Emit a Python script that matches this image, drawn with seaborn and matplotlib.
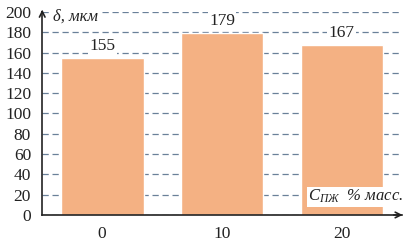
import pandas as pd
import seaborn as sns
import matplotlib.pyplot as plt

# Data
concentration = ["0", "10", "20"]
thickness = [155, 179, 167]
y_ticks = [0, 20, 40, 60, 80, 100, 120, 140, 160, 180, 200]

df = pd.DataFrame({"c": concentration, "delta": thickness})

sns.set_style("white")
plt.rcParams["font.family"] = ["Liberation Serif", "DejaVu Serif"]
plt.rcParams["mathtext.fontset"] = "custom"
plt.rcParams["mathtext.it"] = "Liberation Serif:italic"
plt.rcParams["mathtext.rm"] = "Liberation Serif"

fig = plt.figure(figsize=(4.1, 2.44), dpi=100)
ax = fig.add_axes([0.103, 0.119, 0.877, 0.832])

sns.barplot(data=df, x="c", y="delta", color="#F4B183", saturation=1,
            width=0.69, ax=ax, zorder=2)

ax.set_ylim(0, 200)
ax.set_xlim(-0.5, 2.5)
ax.set_yticks(y_ticks)
ax.set_xlabel("")
ax.set_ylabel("")
ax.grid(axis="y", linestyle=(0, (5, 3)), color="#6a8099", linewidth=0.9, zorder=1)
ax.set_axisbelow(True)
ax.tick_params(axis="both", length=0, labelsize=12.5, colors="#222222")
ax.tick_params(axis="y", pad=8)
ax.tick_params(axis="x", pad=8)

for s in ["top", "right"]:
    ax.spines[s].set_visible(False)
for s in ["left", "bottom"]:
    ax.spines[s].set_color("#222222")
    ax.spines[s].set_linewidth(1.2)
    ax.spines[s].set_zorder(4)

# axis arrows
ax.annotate("", xy=(0, 1.025), xycoords="axes fraction", xytext=(0, 0.98),
            arrowprops=dict(arrowstyle="->", color="#222222", lw=1.2))
ax.annotate("", xy=(1.01, 0), xycoords="axes fraction", xytext=(0.97, 0),
            arrowprops=dict(arrowstyle="->", color="#222222", lw=1.2))

# value labels
for i, v in enumerate(thickness):
    ax.text(i, v + 4, str(v), ha="center", va="bottom", fontsize=12.5,
            color="#222222", zorder=5,
            bbox=dict(facecolor="white", edgecolor="none", pad=1))

# axis titles
ax.text(0.03, 0.975, "δ, мкм", transform=ax.transAxes, ha="left", va="center",
        fontsize=12, style="italic", color="#222222", zorder=5,
        bbox=dict(facecolor="white", edgecolor="none", pad=1))
ax.text(1.005, 0.09, r"$C_{ПЖ}$  % масс.", transform=ax.transAxes, ha="right",
        va="center", fontsize=12, style="italic", color="#222222", zorder=5,
        bbox=dict(facecolor="white", edgecolor="none", pad=1))

fig.savefig("out.png", dpi=100)
